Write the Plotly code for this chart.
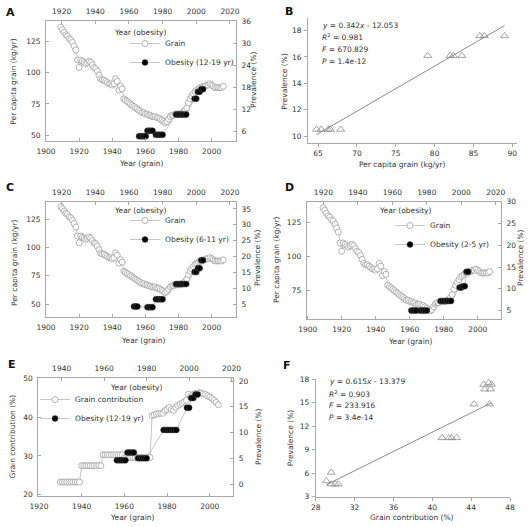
import plotly.graph_objects as go

W, H = 531, 527
FONT = "DejaVu Sans"
FS = 7.5
LINE = "#a8a8a8"
TXT = "#333333"

# ---------------- data ----------------
grain_years = list(range(1909, 2008))
grain_kg = [136, 134, 132, 130, 129, 127, 126, 124, 121, 118,
            110, 104, 110, 109, 108, 107, 108, 109, 108, 106,
            104, 103, 101, 98, 95, 94, 94, 93, 92, 91,
            91, 90, 91, 95, 93, 86, 89, 87, 79, 78,
            77, 76, 75, 74, 73, 72, 71, 70, 69, 68,
            68, 67, 67, 66, 66, 65, 65, 65, 64, 64,
            63, 62, 61, 60, 61, 63, 65, 66, 66, 67,
            67, 67, 67, 68, 68, 70, 72, 76, 79, 81,
            83, 85, 86, 87, 88, 88, 89, 89, 90, 90,
            91, 90, 89, 88, 88, 88, 88, 88, 89]

ob1219_years = [1966, 1967, 1968, 1969, 1970, 1971, 1972, 1973, 1974,
                1976, 1977, 1978, 1979, 1980, 1988, 1989, 1990, 1991, 1992, 1993, 1994,
                1999, 2000, 2001, 2002, 2003, 2004]
ob1219 = [4.6, 4.6, 4.6, 4.6, 4.6, 6.1, 6.1, 6.1, 6.1,
          5.0, 5.0, 5.0, 5.0, 5.0, 10.5, 10.5, 10.5, 10.5, 10.5, 10.5, 10.5,
          14.8, 14.8, 16.7, 16.7, 17.4, 17.4]

ob611_years = [1963, 1964, 1965, 1971, 1972, 1973, 1974,
               1976, 1977, 1978, 1979, 1980, 1988, 1989, 1990, 1991, 1992, 1993, 1994,
               1999, 2000, 2001, 2002, 2003, 2004]
ob611 = [4.2, 4.2, 4.2, 4.0, 4.0, 4.0, 4.0,
         6.5, 6.5, 6.5, 6.5, 6.5, 11.3, 11.3, 11.3, 11.3, 11.3, 11.3, 11.3,
         15.1, 15.1, 16.3, 16.3, 18.8, 18.8]

ob25_years = [1971, 1972, 1973, 1974, 1976, 1977, 1978, 1979, 1980,
              1988, 1989, 1990, 1991, 1992, 1993, 1994,
              1999, 2000, 2001, 2002, 2003, 2004]
ob25 = [5.0, 5.0, 5.0, 5.0, 5.0, 5.0, 5.0, 5.0, 5.0,
        7.2, 7.2, 7.2, 7.2, 7.2, 7.2, 7.2,
        10.3, 10.3, 10.6, 10.6, 13.9, 13.9]

b_grain = [64.8, 65.4, 66.3, 66.6, 67.9, 79.1, 82.0, 82.4, 83.5, 85.8, 86.4, 89.0]
b_prev = [10.5, 10.5, 10.5, 10.5, 10.5, 16.1, 16.1, 16.1, 16.1, 17.6, 17.6, 17.6]
b_slope, b_icpt = 0.342, -12.053
b_stats = ["<i>y</i> = 0.342<i>x</i> - 12.053", "<i>R</i><sup>2</sup> = 0.981",
           "<i>F</i> = 670.829", "<i>P</i> = 1.4e-12"]

contrib_years = list(range(1930, 2005))
contrib = [23.3, 23.3, 23.3, 23.3, 23.3, 23.3, 23.3, 23.3, 23.3, 23.3,
           27.5, 27.5, 27.5, 27.5, 27.5, 27.5, 27.5, 27.5, 27.5, 27.5,
           30.3, 30.3, 30.3, 30.3, 30.3, 30.3, 30.3, 30.3, 30.3, 30.3,
           29.6, 29.6, 29.6, 29.6, 29.6, 29.6, 29.6, 29.6, 29.6, 29.6, 29.6, 29.6, 29.6,
           40.4, 40.6, 40.8, 40.9, 41.0, 41.0, 41.7, 42.0, 42.5, 42.0, 41.7, 42.5,
           43.0, 43.3, 43.6, 44.0, 44.3, 45.9, 45.3, 45.8, 46.1, 46.0, 46.3, 46.2,
           46.0, 45.8, 45.5, 45.2, 44.8, 44.3, 43.8, 43.2]

f_contrib = [29.1, 29.6, 29.6, 30.0, 30.3, 41.0, 41.7, 42.0, 42.5, 44.3, 45.9,
             45.3, 45.8, 46.1, 45.4, 46.0]
f_prev = [5.0, 6.1, 4.6, 4.6, 4.6, 10.5, 10.5, 10.5, 10.5, 14.8, 14.8,
          17.3, 17.5, 17.3, 16.7, 16.7]
f_slope, f_icpt = 0.615, -13.379
f_stats = ["<i>y</i> = 0.615<i>x</i> - 13.379", "<i>R</i><sup>2</sup> = 0.903",
           "<i>F</i> = 233.916", "<i>P</i> = 3.4e-14"]


# ---------------- helpers ----------------
def dx(a, b):
    return [a / W, b / W]


def dy(top, bottom):
    return [1 - bottom / H, 1 - top / H]


def axis(**kw):
    d = dict(showline=True, linecolor=LINE, linewidth=1, ticks="inside", ticklen=3,
             tickcolor=LINE, showgrid=False, zeroline=False,
             tickfont=dict(family=FONT, size=FS, color=TXT), automargin=False,
             ticklabelstandoff=3)
    d.update(kw)
    return d


grain_marker = dict(symbol="circle", size=6, color="white", line=dict(color="#a0a0a0", width=0.8))
ob_marker = dict(symbol="circle", size=6, color="black", line=dict(color="#555", width=0.5))
gline = dict(color="#b8b8b8", width=0.8)

fig = go.Figure()


def grain_trace(xa, ya, leg, x=grain_years, y=grain_kg, name="Grain"):
    fig.add_trace(go.Scatter(x=x, y=y, xaxis=xa, yaxis=ya, mode="lines+markers", name=name,
                             legend=leg, line=gline, marker=grain_marker))


def ob_trace(xa, ya, leg, x, y, name):
    fig.add_trace(go.Scatter(x=x, y=y, xaxis=xa, yaxis=ya, mode="lines+markers", name=name,
                             legend=leg, line=gline, marker=ob_marker))


def scatter_panel(xa, ya, x, y, slope, icpt):
    fig.add_trace(go.Scatter(x=x, y=y, xaxis=xa, yaxis=ya, mode="markers", showlegend=False,
                             marker=dict(symbol="triangle-up-open", size=7, color="#8a8a8a",
                                         line=dict(width=0.8))))
    xs = [min(x), max(x)]
    fig.add_trace(go.Scatter(x=xs, y=[slope * v + icpt for v in xs], xaxis=xa, yaxis=ya,
                             mode="lines", showlegend=False, line=dict(color="#8a8a8a", width=1)))


# A
grain_trace("x", "y", "legend")
ob_trace("x2", "y2", "legend", ob1219_years, ob1219, "Obesity (12-19 yr)")
# B
scatter_panel("x3", "y3", b_grain, b_prev, b_slope, b_icpt)
# C
grain_trace("x4", "y4", "legend2")
ob_trace("x5", "y5", "legend2", ob611_years, ob611, "Obesity (6-11 yr)")
# D
grain_trace("x6", "y6", "legend3")
ob_trace("x7", "y7", "legend3", ob25_years, ob25, "Obesity (2-5 yr)")
# E
grain_trace("x8", "y8", "legend4", contrib_years, contrib, "Grain contribution")
ob_trace("x9", "y9", "legend4", ob1219_years, ob1219, "Obesity (12-19 yr)")
# F
scatter_panel("x10", "y10", f_contrib, f_prev, f_slope, f_icpt)

yr_bottom = list(range(1900, 2001, 20))
yr_top = list(range(1920, 2021, 20))

layout = dict(
    width=W, height=H, margin=dict(l=0, r=0, t=0, b=0),
    paper_bgcolor="white", plot_bgcolor="white",
    font=dict(family=FONT, size=FS, color=TXT),
    # A
    xaxis=axis(domain=dx(46, 236), range=[1900, 2014.7], anchor="y", tickvals=yr_bottom, mirror=True),
    xaxis2=axis(overlaying="x", side="top", anchor="y", range=[1910.7, 2023.6], tickvals=yr_top),
    yaxis=axis(domain=dy(21, 141), range=[45.5, 141], anchor="x", tickvals=[50, 75, 100, 125], mirror=True),
    yaxis2=axis(overlaying="y", side="right", anchor="x", range=[3.3, 36], tickvals=[6, 12, 18, 24, 30, 36]),
    # B
    xaxis3=axis(domain=dx(308, 517), range=[63.7, 90.6], anchor="y3", ticks="outside",
                ticklabelstandoff=0, tickvals=[65, 70, 75, 80, 85, 90]),
    yaxis3=axis(domain=dy(18, 143), range=[9.47, 18.96], anchor="x3", ticks="outside",
                ticklabelstandoff=1, tickvals=[10, 12, 14, 16, 18]),
    # C
    xaxis4=axis(domain=dx(46, 236), range=[1900, 2014.7], anchor="y4", tickvals=yr_bottom, mirror=True),
    xaxis5=axis(overlaying="x4", side="top", anchor="y4", range=[1910.7, 2023.6], tickvals=yr_top),
    yaxis4=axis(domain=dy(201.7, 316.7), range=[38.8, 140.3], anchor="x4", tickvals=[50, 75, 100, 125], mirror=True),
    yaxis5=axis(overlaying="y4", side="right", anchor="x4", range=[1, 37.3], tickvals=[5, 10, 15, 20, 25, 30, 35]),
    # D
    xaxis6=axis(domain=dx(306.7, 501), range=[1899.4, 2013.7], anchor="y6", tickvals=yr_bottom, mirror=True),
    xaxis7=axis(overlaying="x6", side="top", anchor="y6", range=[1910.3, 2023], tickvals=yr_top),
    yaxis6=axis(domain=dy(201.7, 319.3), range=[53.9, 140.4], anchor="x6", tickvals=[75, 100, 125], mirror=True),
    yaxis7=axis(overlaying="y6", side="right", anchor="x6", range=[3, 30], tickvals=[5, 10, 15, 20, 25, 30]),
    # E
    xaxis8=axis(domain=dx(38.3, 233.3), range=[1919.7, 2011], anchor="y8",
                tickvals=[1920, 1940, 1960, 1980, 2000], mirror=True),
    xaxis9=axis(overlaying="x8", side="top", anchor="y8", range=[1929, 2020.8],
                tickvals=[1940, 1960, 1980, 2000, 2020]),
    yaxis8=axis(domain=dy(377.7, 496), range=[19.7, 50.15], anchor="x8", tickvals=[20, 30, 40, 50], mirror=True),
    yaxis9=axis(overlaying="y8", side="right", anchor="x8", range=[-2.33, 20.65], tickvals=[0, 5, 10, 15, 20]),
    # F
    xaxis10=axis(domain=dx(315.7, 510), range=[28, 48], anchor="y10", ticks="outside",
                 ticklabelstandoff=0, tickvals=[28, 32, 36, 40, 44, 48]),
    yaxis10=axis(domain=dy(379, 496.7), range=[3, 18], anchor="x10", ticks="outside",
                 ticklabelstandoff=1, tickvals=[3, 6, 9, 12, 15, 18]),
)


def leg(xpx, ypx):
    return dict(x=xpx / W, y=1 - ypx / H, xanchor="left", yanchor="top", bgcolor="rgba(0,0,0,0)",
                borderwidth=0, itemwidth=30, font=dict(family=FONT, size=FS, color=TXT),
                tracegroupgap=0)


layout["legend"] = leg(125, 29)
layout["legend2"] = leg(125, 206)
layout["legend3"] = leg(390, 211)
layout["legend4"] = leg(35, 385)

fig.update_layout(**layout)

anns = []


def ann(text, x, y, xanchor="center", size=FS, angle=0, bold=False):
    t = "<b>%s</b>" % text if bold else text
    anns.append(dict(text=t, x=x / W, y=1 - y / H, xref="paper", yref="paper", showarrow=False,
                     xanchor=xanchor, yanchor="middle", textangle=angle,
                     font=dict(family=FONT, size=size, color="#111" if bold else TXT)))


# panel letters
for letter, lx, ly in [("A", 4, 12.7), ("B", 283, 11.7), ("C", 4, 188), ("D", 283, 188),
                       ("E", 6, 364), ("F", 281, 365)]:
    ann(letter, lx, ly, xanchor="left", size=11, bold=True)

# A
ann("Year (grain)", 141, 163.5)
ann("Year (obesity)", 140, 32.3)
ann("Per capita grain (kg/yr)", 14, 81.7, angle=-90)
ann("Prevalence (%)", 253, 80, angle=-90)
# B
ann("Per capita grain (kg/yr)", 402, 164.5)
ann("Prevalence (%)", 285, 81.7, angle=-90)
for i, s in enumerate(b_stats):
    ann(s, 320, 25 + i * 12.3, xanchor="left")
# C
ann("Year (grain)", 143, 340)
ann("Year (obesity)", 140, 210.7)
ann("Per capita grain (kg/yr)", 14, 263, angle=-90)
ann("Prevalence (%)", 258, 258, angle=-90)
# D
ann("Year (grain)", 410, 341)
ann("Year (obesity)", 405, 210.7)
ann("Per capita grain (kg/yr)", 276, 260, angle=-90)
ann("Prevalence (%)", 521, 258, angle=-90)
# E
ann("Year (grain)", 132, 517.5)
ann("Year (obesity)", 137, 387.3)
ann("Grain contribution (%)", 12.7, 436.7, angle=-90)
ann("Prevalence (%)", 258.3, 436.7, angle=-90)
# F
ann("Grain contribution (%)", 412, 517.5)
ann("Prevalence (%)", 290, 438.3, angle=-90)
for i, s in enumerate(f_stats):
    ann(s, 327, 381.7 + i * 11.8, xanchor="left")

fig.update_layout(annotations=anns)
fig.write_html("out.html", config={"displayModeBar": False},
               post_script="document.body.style.margin='0';document.body.style.overflow='hidden';")
